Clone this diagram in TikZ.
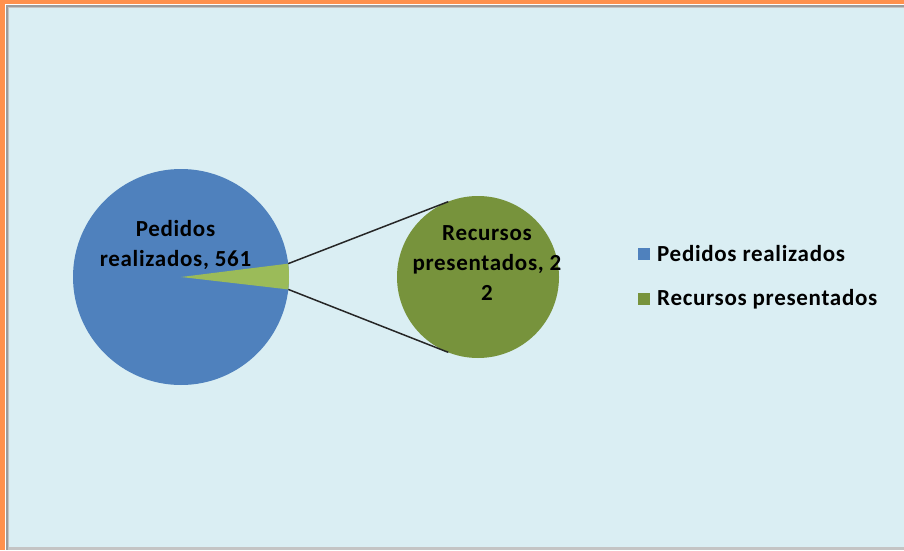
\documentclass[tikz,border=0pt]{standalone}
\usepackage{fontspec}
\setmainfont{Carlito}
\newfontfamily\chartfont[LetterSpace=3]{Carlito}
\usetikzlibrary{calc}
\definecolor{frameorange}{HTML}{FF914D}
\definecolor{bgblue}{HTML}{DAEEF3}
\definecolor{pieblue}{HTML}{4F81BD}
\definecolor{lightgreen}{HTML}{9BBB59}
\definecolor{darkgreen}{HTML}{77933C}
\definecolor{framegray}{HTML}{9C9C9C}
\tikzset{
  lbl/.style={font=\chartfont\bfseries\fontsize{23}{30}\selectfont, text=black, align=center, inner sep=0pt},
  legtext/.style={font=\chartfont\bfseries\fontsize{23}{25}\selectfont, text=black, anchor=base west, inner sep=0pt},
  legbox/.style={minimum size=12pt, inner sep=0pt, anchor=south west},
  connector/.style={draw=black!85, line width=1.5pt}
}
\begin{document}
\begin{tikzpicture}[x=1pt,y=1pt]
\useasboundingbox (0,0) rectangle (904,550);
% frame
\fill[frameorange] (0,0) rectangle (904,550);
\fill[white] (5,0) rectangle (904,546);
\fill[framegray] (6,0) rectangle (904,545);
\fill[framegray!60] (8,0) rectangle (904,543);
\fill[bgblue] (9,3) rectangle (904,542);
% big pie
\coordinate (c1) at (181,273);
\fill[pieblue] (c1) circle (108);
\fill[lightgreen] (c1) -- ($(c1)+(-6.6:108)$) arc (-6.6:7.1:108) -- cycle;
\coordinate (s1) at ($(c1)+(7.1:108)$);
\coordinate (s2) at ($(c1)+(-6.6:108)$);
% second pie
\coordinate (c2) at (478,273);
\fill[darkgreen] (c2) circle (81);
\coordinate (t1) at ($(c2)+(111.5:81)$);
\coordinate (t2) at ($(c2)+(248.5:81)$);
\draw[connector] (s1) -- (t1);
\draw[connector] (s2) -- (t2);
% labels
\node[lbl] (lab1) at (175.5,305) {Pedidos\\realizados, 561};
\node[lbl] (lab2) at (487,287) {Recursos\\presentados, 2\\2};
% legend
\node[legbox, fill=pieblue] (lb1) at (638,290) {};
\node[legtext] (lt1) at (657,289) {Pedidos realizados};
\node[legbox, fill=darkgreen] (lb2) at (638,245) {};
\node[legtext] (lt2) at (657,245) {Recursos presentados};
\end{tikzpicture}
\end{document}
